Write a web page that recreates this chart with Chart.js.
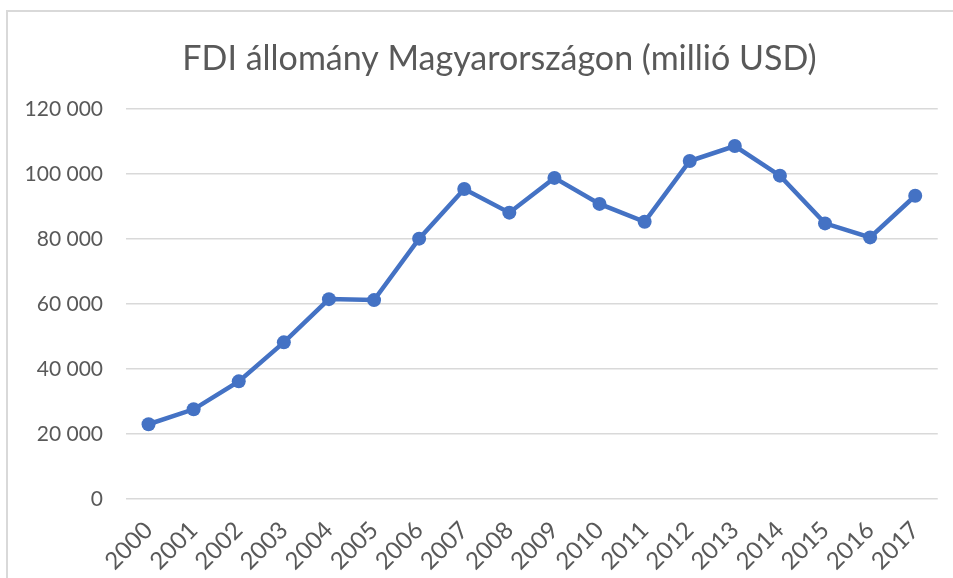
<!DOCTYPE html>
<html>
<head>
<meta charset="utf-8">
<script src="https://cdn.jsdelivr.net/npm/chart.js@4/dist/chart.umd.min.js"></script>
<style>
  html, body { margin: 0; padding: 0; background: #ffffff; }
  #c { display: block; }
</style>
</head>
<body>
<canvas id="c" width="953" height="578"></canvas>
<script>
const titleText = 'FDI állomány Magyarországon (millió USD)';
const years = ['2000','2001','2002','2003','2004','2005','2006','2007','2008','2009','2010','2011','2012','2013','2014','2015','2016','2017'];
const fdiStock = [23000, 27600, 36200, 48200, 61500, 61200, 80100, 95400, 88100, 98800, 90800, 85300, 104000, 108600, 99500, 84800, 80500, 93300];
const yTicks = [0, 20000, 40000, 60000, 80000, 100000, 120000];

const fontFamily = 'Lato, "Open Sans", sans-serif';
const textColor = '#595959';

const frame = {
  id: 'frame',
  afterLayout(chart) {
    // let the y tick labels use the space left of the layout padding
    const y = chart.scales.y;
    y.width = y.right;
    y.left = 0;
  },
  beforeDraw(chart) {
    const ctx = chart.ctx;
    ctx.save();
    ctx.fillStyle = '#ffffff';
    ctx.fillRect(0, 0, chart.width, chart.height);
    ctx.strokeStyle = '#d9d9d9';
    ctx.lineWidth = 2;
    ctx.beginPath();
    ctx.moveTo(7, chart.height);
    ctx.lineTo(7, 11);
    ctx.lineTo(chart.width, 11);
    ctx.stroke();
    ctx.restore();
  }
};

new Chart(document.getElementById('c'), {
  type: 'line',
  data: {
    labels: years,
    datasets: [{
      data: fdiStock,
      borderColor: '#4472C4',
      backgroundColor: '#4472C4',
      borderWidth: 4.5,
      pointRadius: 7,
      pointHoverRadius: 7,
      pointBorderWidth: 0,
      tension: 0
    }]
  },
  options: {
    responsive: false,
    animation: false,
    devicePixelRatio: 1,
    layout: { padding: { left: 61, right: 15, top: 0, bottom: 0 } },
    plugins: {
      legend: { display: false },
      tooltip: { enabled: false },
      title: {
        display: true,
        text: titleText,
        color: textColor,
        font: { family: fontFamily, size: 34, weight: 'normal', lineHeight: 1.2 },
        padding: { top: 38.6, bottom: 29.6 }
      }
    },
    scales: {
      x: {
        offset: true,
        grid: { display: false, drawTicks: false },
        border: { display: false },
        ticks: {
          color: textColor,
          font: { family: fontFamily, size: 24 },
          minRotation: 45,
          maxRotation: 45,
          padding: 17,
          autoSkip: false
        },
        afterFit(scale) { scale.height = 79; }
      },
      y: {
        min: 0,
        max: 120000,
        grid: { color: '#d9d9d9', lineWidth: 1.5, drawTicks: false },
        border: { display: false },
        afterBuildTicks(scale) { scale.ticks = yTicks.map(v => ({ value: v })); },
        ticks: {
          color: textColor,
          font: { family: fontFamily, size: 21 },
          padding: 23,
          callback: v => String(v).replace(/\B(?=(\d{3})+(?!\d))/g, ' ')
        },
        afterFit(scale) { scale.width = 65; }
      }
    }
  },
  plugins: [frame]
});
</script>
</body>
</html>
